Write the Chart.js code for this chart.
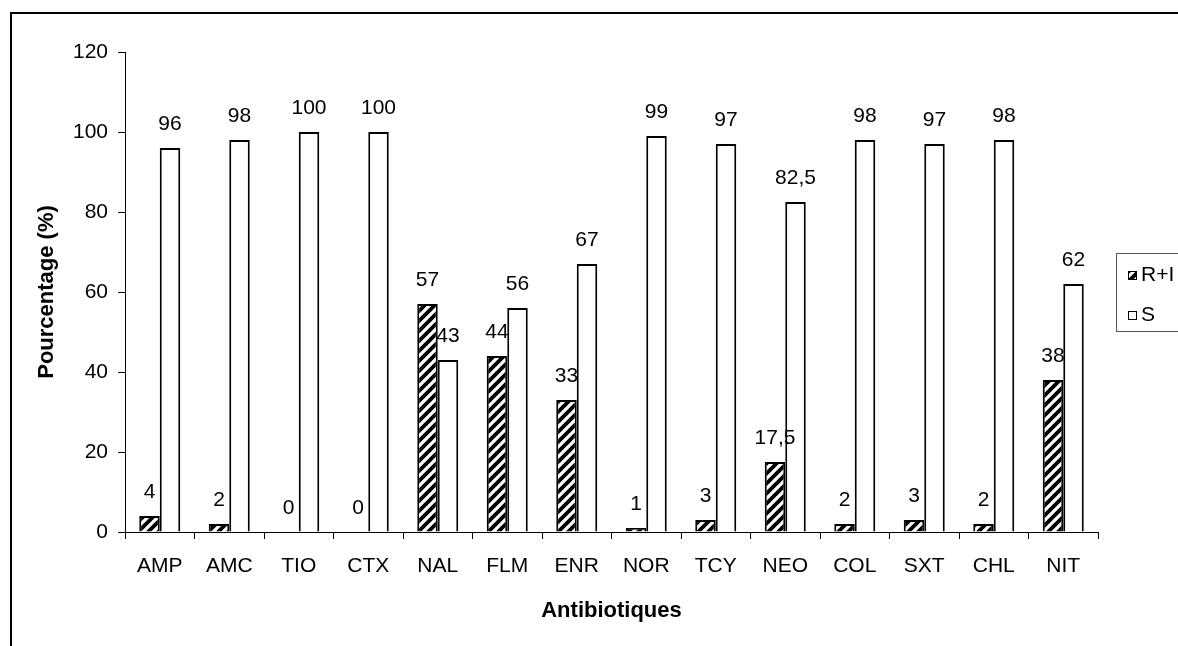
<!DOCTYPE html>
<html lang="fr">
<head>
    <meta charset="UTF-8">
    <title>Antibiotiques</title>
    <script src="https://cdn.jsdelivr.net/npm/chart.js"></script>
    <style type="text/css">
        html, body{
            margin: 0;
            padding: 0;
            background: #fff;
            overflow: hidden; /* la légende est coupée à droite */
        }
        #chart{
            display: block;
        }
    </style>
</head>
<body>
    <canvas id="chart" width="1210" height="646"></canvas>
    <script>
        // données
        const antibiotiques = ['AMP', 'AMC', 'TIO', 'CTX', 'NAL', 'FLM', 'ENR', 'NOR', 'TCY', 'NEO', 'COL', 'SXT', 'CHL', 'NIT'];
        const resistants = [4, 2, 0, 0, 57, 44, 33, 1, 3, 17.5, 2, 3, 2, 38]; // R+I
        const sensibles = [96, 98, 100, 100, 43, 56, 67, 99, 97, 82.5, 98, 97, 98, 62]; // S
        const yTicks = [0, 20, 40, 60, 80, 100, 120];

        Chart.defaults.font.family = "'Liberation Sans', Arial, sans-serif";
        Chart.defaults.color = '#000';

        // motif hachuré pour R+I
        function hachures(){
            const c = document.createElement('canvas');
            c.width = 10;
            c.height = 10;
            const g = c.getContext('2d');
            g.fillStyle = '#fff';
            g.fillRect(0, 0, 10, 10);
            g.strokeStyle = '#000';
            g.lineWidth = 3.8;
            g.beginPath();
            g.moveTo(-5, 5); g.lineTo(5, -5);
            g.moveTo(0, 10); g.lineTo(10, 0);
            g.moveTo(5, 15); g.lineTo(15, 5);
            g.stroke();
            return g.createPattern(c, 'repeat');
        }
        const motif = hachures();

        function formatFr(v){
            return String(v).replace('.', ',');
        }

        // cadre extérieur
        const cadre = {
            id: 'cadre',
            afterDraw(chart){
                const ctx = chart.ctx;
                ctx.save();
                ctx.strokeStyle = '#000';
                ctx.lineWidth = 2;
                ctx.strokeRect(11, 13, 1400, 900);
                ctx.restore();
            }
        };

        // valeurs au-dessus des barres
        const etiquettes = {
            id: 'etiquettes',
            afterDatasetsDraw(chart){
                const ctx = chart.ctx;
                ctx.save();
                ctx.font = "21px 'Liberation Sans', Arial, sans-serif";
                ctx.fillStyle = '#000';
                ctx.textAlign = 'center';
                ctx.textBaseline = 'alphabetic';
                chart.data.datasets.forEach(function(ds, i){
                    const meta = chart.getDatasetMeta(i);
                    meta.data.forEach(function(bar, j){
                        ctx.fillText(formatFr(ds.data[j]), bar.x, bar.y - 18);
                    });
                });
                ctx.restore();
            }
        };

        // légende encadrée (coupée par le bord)
        const legende = {
            id: 'legende',
            afterDraw(chart){
                const ctx = chart.ctx;
                ctx.save();
                ctx.strokeStyle = '#555';
                ctx.lineWidth = 1;
                ctx.strokeRect(1116.5, 253.5, 200, 78);
                ctx.font = "21px 'Liberation Sans', Arial, sans-serif";
                ctx.textBaseline = 'middle';
                ctx.textAlign = 'left';
                const ys = [275, 315];
                chart.data.datasets.forEach(function(ds, i){
                    ctx.fillStyle = ds.backgroundColor;
                    ctx.fillRect(1128, ys[i] - 4, 9, 9);
                    ctx.strokeStyle = '#000';
                    ctx.strokeRect(1128.5, ys[i] - 3.5, 8, 8);
                    ctx.fillStyle = '#000';
                    ctx.fillText(ds.label, 1141, ys[i]);
                });
                ctx.restore();
            }
        };

        const config = {
            type: 'bar',
            data: {
                labels: antibiotiques,
                datasets: [{
                    label: 'R+I',
                    data: resistants,
                    backgroundColor: motif,
                    borderColor: '#000',
                    borderWidth: 2
                },
                {
                    label: 'S',
                    data: sensibles,
                    backgroundColor: '#fff',
                    borderColor: '#000',
                    borderWidth: 2
                }]
            },
            options: {
                responsive: false,
                animation: false,
                layout: {
                    padding: {top: 52, right: 112, bottom: 0, left: 0}
                },
                datasets: {
                    bar: {categoryPercentage: 0.59, barPercentage: 1}
                },
                plugins: {
                    legend: {display: false},
                    tooltip: {enabled: false}
                },
                scales: {
                    x: {
                        grid: {
                            drawOnChartArea: false,
                            color: '#000',
                            tickLength: 7
                        },
                        border: {color: '#000', width: 1},
                        ticks: {
                            font: {size: 21},
                            padding: 15,
                            maxRotation: 0,
                            autoSkip: false
                        },
                        title: {
                            display: true,
                            text: 'Antibiotiques',
                            font: {size: 22, weight: 'bold'},
                            padding: {top: 0, bottom: 22}
                        },
                        afterFit: function(scale){ scale.height = 114; }
                    },
                    y: {
                        min: 0,
                        max: 120,
                        afterBuildTicks: function(scale){
                            scale.ticks = yTicks.map(function(v){ return {value: v}; });
                        },
                        grid: {
                            drawOnChartArea: false,
                            color: '#000',
                            tickLength: 7
                        },
                        border: {color: '#000', width: 1},
                        ticks: {
                            font: {size: 21},
                            padding: 10
                        },
                        title: {
                            display: true,
                            text: 'Pourcentage (%)',
                            font: {size: 22, weight: 'bold'},
                            padding: {top: 34, bottom: 0}
                        },
                        afterFit: function(scale){ scale.width = 125; }
                    }
                }
            },
            plugins: [cadre, etiquettes, legende]
        };

        const graphique = new Chart(document.getElementById('chart'), config);
    </script>
</body>
</html>
